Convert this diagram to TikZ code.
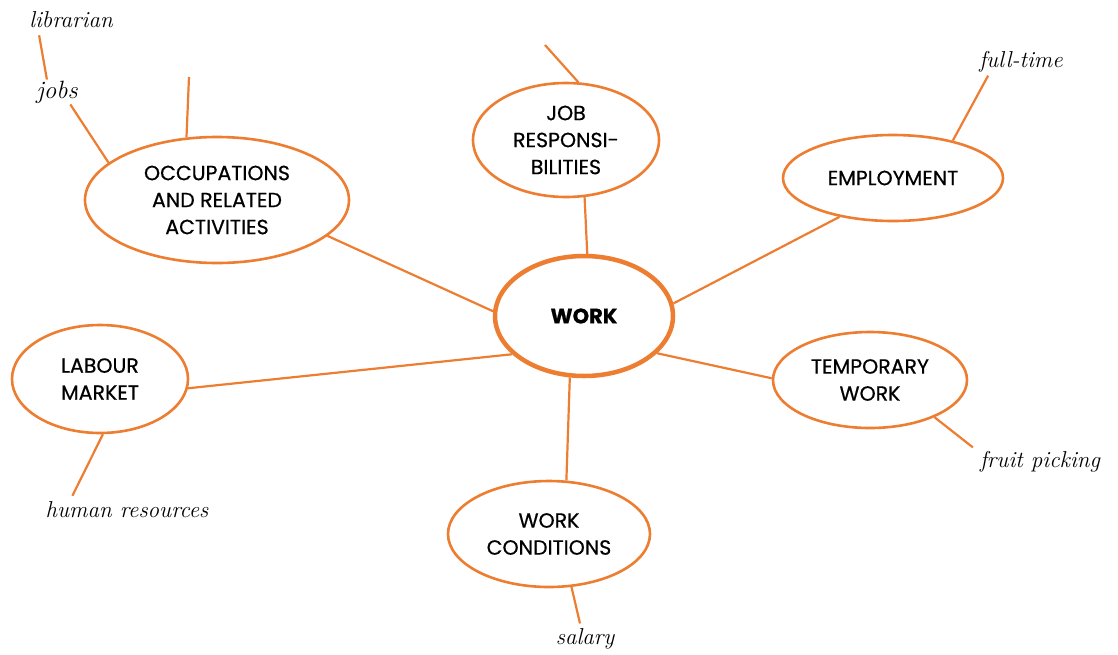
\documentclass[tikz,border=0pt]{standalone}
\usepackage{fontspec}
\newfontfamily\capsfont[FakeBold=0.6]{Poppins}
\usetikzlibrary{shapes.geometric}
\definecolor{orng}{RGB}{237,125,49}
\begin{document}
\begin{tikzpicture}[x=1pt,y=-1pt,
  topic/.style={ellipse, draw=orng, line width=2.6pt, inner sep=0pt, align=center,
    font=\capsfont\fontsize{20.5}{27}\selectfont, text=black},
  hub/.style={topic, line width=4.5pt, font=\capsfont\bfseries\fontsize{21}{24}\selectfont},
  lbl/.style={inner sep=1pt, font=\itshape\fontsize{23}{26}\selectfont, text=black},
  conn/.style={draw=orng, line width=2.2pt}]
\useasboundingbox (0,0) rectangle (1118,654);
% main topics
\node[hub, minimum width=178pt, minimum height=120pt] (work) at (584,316) {WORK};
\node[topic, minimum width=264pt, minimum height=126pt] (occ) at (217,200) {OCCUPATIONS\\AND RELATED\\ACTIVITIES};
\node[topic, minimum width=186pt, minimum height=114pt] (job) at (566,140) {JOB\\RESPONSI-\\BILITIES};
\node[topic, minimum width=220pt, minimum height=86pt] (emp) at (893,178) {EMPLOYMENT};
\node[topic, minimum width=194pt, minimum height=96pt] (temp) at (870,380) {TEMPORARY\\WORK};
\node[topic, minimum width=176pt, minimum height=108pt] (lab) at (100,379) {LABOUR\\MARKET};
\node[topic, minimum width=202pt, minimum height=106pt] (cond) at (549,534) {WORK\\CONDITIONS};
% labels
\node[lbl] (librarian) at (71,20) {librarian};
\node[lbl, font=\itshape\fontsize{25}{27}\selectfont] (jobs) at (57,92) {jobs};
\node[lbl] (fulltime) at (1021,62) {full-time};
\node[lbl] (fruit) at (1040,462) {fruit picking};
\node[lbl] (human) at (127,510) {human resources};
\node[lbl] (salary) at (585,639) {salary};
% free ends
\coordinate (occtop) at (189,77);
\coordinate (jobtop) at (545,45);
% connectors to hub
\draw[conn] (occ.-18) -- (work.177);
\draw[conn] (lab.-6) -- (work.208);
\draw[conn] (work.-27) -- (temp.179);
\draw[conn] (work.-103) -- (cond.72);
\draw[conn] (job.-72) -- (work.87);
\draw[conn] (emp.216) -- (work.8);
% branches
\draw[conn] (occtop) -- (occ.116);
\draw[conn] (jobs.-43) -- (occ.161);
\draw[conn] ([xshift=11pt,yshift=-6pt]librarian.south west) -- (jobs.129);
\draw[conn] (jobtop) -- (job.78);
\draw[conn] ([xshift=10pt,yshift=-2pt]fulltime.south west) -- (emp.32);
\draw[conn] (temp.-30) -- ([xshift=-6pt,yshift=3pt]fruit.north west);
\draw[conn] (lab.-87) -- ([xshift=28pt,yshift=5pt]human.north west);
\draw[conn] (cond.-67) -- ([xshift=-5pt,yshift=4pt]salary.north);
\end{tikzpicture}
\end{document}
